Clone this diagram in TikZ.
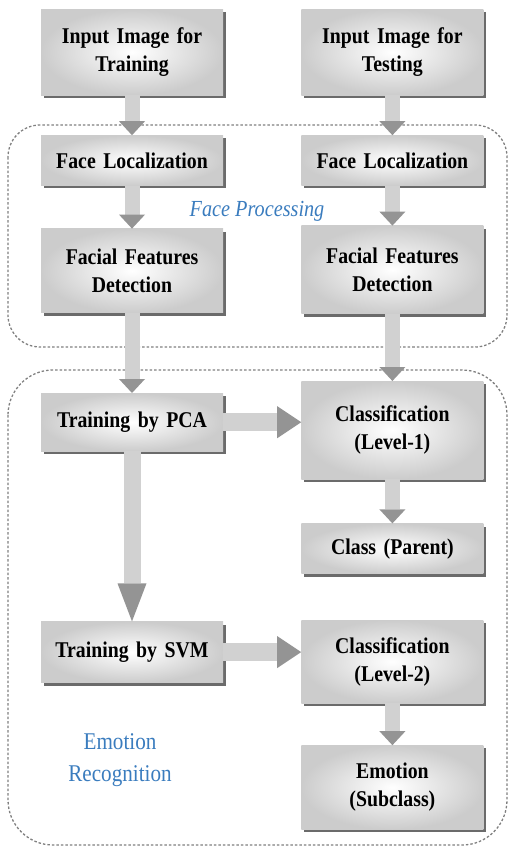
\documentclass[tikz,border=0pt]{standalone}
\usepackage{fontspec}
\setmainfont{Liberation Serif}
\newfontfamily\boxfont[FakeStretch=0.88]{Liberation Serif}
\usepackage{tikz}
\usetikzlibrary{positioning, arrows.meta, shadows}
\usepackage{xcolor}
\definecolor{labelblue}{RGB}{58,124,190}
\tikzstyle{greybox} = [rectangle,
minimum width=182pt,
text width=174pt,
text centered,
inner color=white, outer color=black!20,
drop shadow={shadow xshift=3pt, shadow yshift=-3pt, fill=black!58, opacity=1},
font=\boxfont\fontsize{22.5}{28}\selectfont\bfseries]
\tikzstyle{grouplabel} = [text=labelblue, align=center,
font=\boxfont\fontsize{24}{32}\selectfont]
\tikzstyle{region} = [draw=black!50, line width=1.3pt, dash pattern=on 2.5pt off 2pt]
\tikzstyle{flowv} = [line width=15pt, draw=black!18,
-{Triangle[width=26pt, length=14pt, line width=0pt, fill=black!42, color=black!42]}]
\tikzstyle{flowlong} = [line width=17pt, draw=black!18,
-{Triangle[width=29pt, length=38pt, line width=0pt, fill=black!42, color=black!42]}]
\tikzstyle{flowh} = [line width=18pt, draw=black!18,
-{Triangle[width=32pt, length=24pt, line width=0pt, fill=black!42, color=black!42]}]

\begin{document}
\begin{tikzpicture}[x=1pt, y=1pt]
		\useasboundingbox (0,0) rectangle (509,-847);
		% dashed groups
		\draw [region, rounded corners=32pt] (8,-125) rectangle (507,-347);
		\draw [region, rounded corners=45pt] (8,-370) rectangle (507,-845);

		\node (train) [greybox, minimum height=86pt] at (132,-52) {Input Image for\\Training};
		\node (test) [greybox, minimum height=86pt, right=78pt of train] {Input Image for\\Testing};
		\node (loca) [greybox, minimum height=50pt, below=40pt of train] {Face Localization};
		\node (locb) [greybox, minimum height=50pt, below=40pt of test] {Face Localization};
		\node (feata) [greybox, minimum height=84pt, below=43pt of loca] {Facial Features\\Detection};
		\node (featb) [greybox, minimum height=88pt, below=40pt of locb] {Facial Features\\Detection};
		\node (pca) [greybox, minimum height=58pt, below=80pt of feata] {Training by PCA};
		\node (cls1) [greybox, minimum height=98pt, below=67pt of featb] {Classification\\(Level-1)};
		\node (parent) [greybox, minimum height=50pt, below=44pt of cls1] {Class (Parent)};
		\node (svm) [greybox, minimum height=61pt, below=170pt of pca] {Training by SVM};
		\node (cls2) [greybox, minimum height=83pt, below=46pt of parent] {Classification\\(Level-2)};
		\node (emo) [greybox, minimum height=84pt, below=42pt of cls2] {Emotion\\(Subclass)};

		\node (facelbl) [grouplabel, font=\boxfont\fontsize{23}{26}\selectfont\itshape] at (257,-211) {Face Processing};
		\node (emolbl) [grouplabel] at (120,-760) {Emotion\\Recognition};

		\draw [flowv](train) -- (loca);
		\draw [flowv](loca) -- (feata);
		\draw [flowv](feata) -- (pca);
		\draw [flowv](test) -- (locb);
		\draw [flowv](locb) -- (featb);
		\draw [flowv](featb) -- (cls1);
		\draw [flowv](cls1) -- (parent);
		\draw [flowv](cls2) -- (emo);
		\draw [flowlong](pca) -- (svm);
		\draw [flowh](pca.east) -- (pca.east -| cls1.west);
		\draw [flowh](svm.east) -- (svm.east -| cls2.west);
	\end{tikzpicture}
\end{document}
